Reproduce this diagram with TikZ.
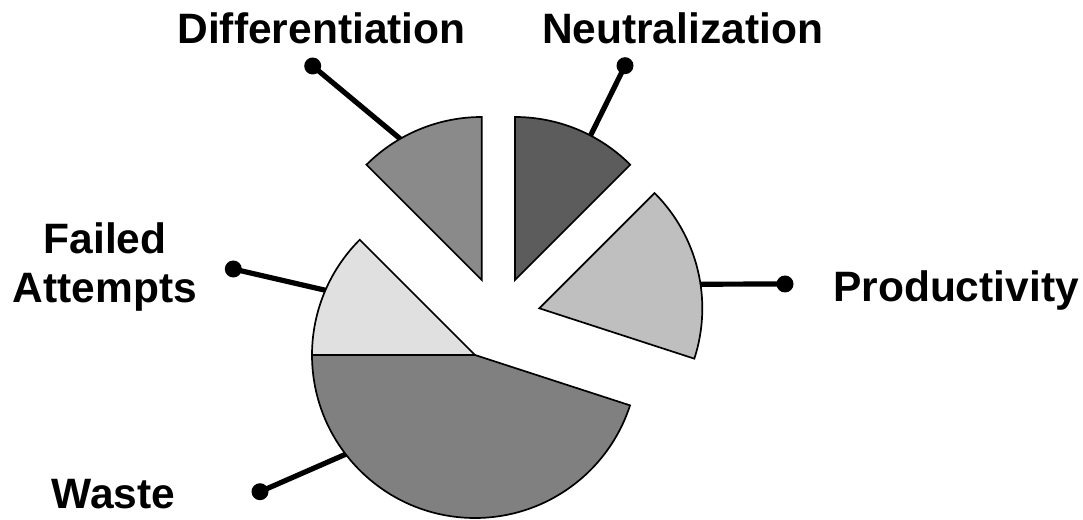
\documentclass[tikz,border=0pt]{standalone}
\usepackage{fontspec}
\setmainfont{Liberation Sans}
\usetikzlibrary{calc}
\definecolor{wastegray}{gray}{0.50}
\definecolor{failgray}{gray}{0.88}
\definecolor{diffgray}{gray}{0.54}
\definecolor{neutgray}{gray}{0.36}
\definecolor{prodgray}{gray}{0.75}
\begin{document}
\begin{tikzpicture}[x=1pt,y=1pt,
  wedge/.style={draw=black,line width=1.7pt,line join=miter},
  leader/.style={line width=5.2pt,line cap=round},
  dotnode/.style={circle,fill=black,inner sep=0pt,minimum size=17pt},
  lbl/.style={font=\fontsize{42.5}{49}\selectfont\bfseries,inner sep=0pt,anchor=base,align=center}]
\useasboundingbox (0,0) rectangle (1083,519);
\def\R{163}
% slice apexes
\coordinate (cW) at (475,164);
\coordinate (cD) at (481.7,239);
\coordinate (cN) at (515,239);
\coordinate (cP) at (539.3,210.7);
% points where the leaders meet the rims
\coordinate (aW) at ($(cW)+(217.5:\R)$);
\coordinate (aF) at ($(cW)+(156.6:\R)$);
\coordinate (aD) at ($(cD)+(120:\R)$);
\coordinate (aN) at ($(cN)+(62.4:\R)$);
\coordinate (aP) at ($(cP)+(8.5:\R)$);
% leader dots
\node[dotnode] (dW) at (260,27.3) {};
\node[dotnode] (dF) at (233.3,250) {};
\node[dotnode] (dD) at (312.7,453) {};
\node[dotnode] (dN) at (625,453.3) {};
\node[dotnode] (dP) at (785,235) {};
\draw[leader] (dW.center) -- (aW);
\draw[leader] (dF.center) -- (aF);
\draw[leader] (dD.center) -- (aD);
\draw[leader] (dN.center) -- (aN);
\draw[leader] (dP.center) -- (aP);
% slices
\filldraw[wedge,fill=wastegray] (cW) -- ($(cW)+(180:\R)$) arc[start angle=180,end angle=342,radius=\R] -- cycle;
\filldraw[wedge,fill=failgray] (cW) -- ($(cW)+(135:\R)$) arc[start angle=135,end angle=180,radius=\R] -- cycle;
\filldraw[wedge,fill=diffgray] (cD) -- ($(cD)+(90:\R)$) arc[start angle=90,end angle=135,radius=\R] -- cycle;
\filldraw[wedge,fill=neutgray] (cN) -- ($(cN)+(45:\R)$) arc[start angle=45,end angle=90,radius=\R] -- cycle;
\filldraw[wedge,fill=prodgray] (cP) -- ($(cP)+(-18:\R)$) arc[start angle=-18,end angle=45,radius=\R] -- cycle;
% labels
\node[lbl] (tD) at (321.5,475) {Differentiation};
\node[lbl] (tN) at (682.5,475) {Neutralization};
\node[lbl] (tP) at (956,217) {Productivity};
\node[lbl] (tF) at (105,216) {Failed\\Attempts};
\node[lbl] (tW) at (113.5,11) {Waste};
\end{tikzpicture}
\end{document}
